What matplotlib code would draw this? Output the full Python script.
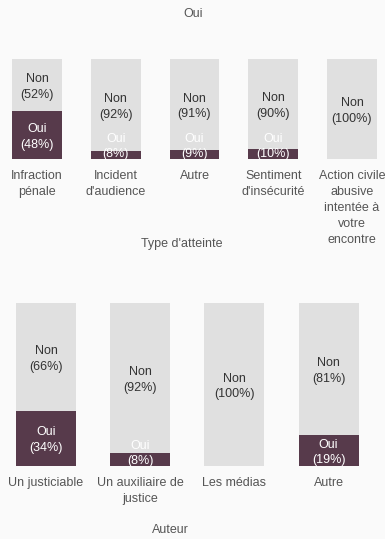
import matplotlib
matplotlib.use('Agg')
import matplotlib.pyplot as plt
from matplotlib.transforms import offset_copy

# figure size in pixels
W, H = 385, 539
DPI = 100

plt.rcParams['font.family'] = ['Liberation Sans', 'DejaVu Sans']

# data
type_labels = ['Infraction\npénale', "Incident\nd'audience", 'Autre',
               "Sentiment\nd'insécurité",
               'Action civile\nabusive\nintentée à\nvotre\nencontre']
type_oui = [48, 8, 9, 10, 0]
type_non = [52, 92, 91, 90, 100]

auteur_labels = ['Un justiciable', 'Un auxiliaire de\njustice', 'Les médias', 'Autre']
auteur_oui = [34, 8, 0, 19]
auteur_non = [66, 92, 100, 81]

BG = '#fafafa'
OUI_COLOR = '#573a4b'
NON_COLOR = '#e0e0e0'
TXT = '#555555'
FS = 9

fig = plt.figure(figsize=(W / DPI, H / DPI), dpi=DPI, facecolor=BG)


def panel(top, bottom, first, step, bar_w, labels, oui, non, label_gap):
    ax = fig.add_axes([0, (H - bottom) / H, 1, (bottom - top) / H])
    ax.set_facecolor('none')
    ax.set_xlim(-first / step, (W - first) / step)
    ax.set_ylim(0, 100)
    ax.set_axis_off()
    x = list(range(len(labels)))
    w = bar_w / step
    ax.bar(x, oui, width=w, color=OUI_COLOR, linewidth=0)
    ax.bar(x, non, width=w, bottom=oui, color=NON_COLOR, linewidth=0)

    ppu = (bottom - top) / 100.0  # pixels per percent
    for i in range(len(labels)):
        if non[i] > 0:
            y = oui[i] + non[i] / 2 - 2 / ppu
            ax.text(i, y, 'Non\n(%d%%)' % non[i], ha='center', va='center',
                    color='#333333', fontsize=FS, linespacing=1.4)
        if oui[i] > 0:
            y = max(oui[i] / 2 - 2 / ppu, 12.5 / ppu)
            ax.text(i, y, 'Oui\n(%d%%)' % oui[i], ha='center', va='center',
                    color='white', fontsize=FS, linespacing=1.4)

    tr = offset_copy(ax.get_xaxis_transform(), fig=fig, y=-label_gap, units='dots')
    for i, lab in enumerate(labels):
        ax.text(i, 0, lab, transform=tr, ha='center', va='top',
                color=TXT, fontsize=FS, linespacing=1.45)
    return ax


panel(59, 159, 37, 78.75, 50, type_labels, type_oui, type_non, 11)
panel(303, 466, 46, 94.2, 60, auteur_labels, auteur_oui, auteur_non, 11)

fig.text(193 / W, 1 - 14 / H, 'Oui', ha='center', va='center', color=TXT, fontsize=FS)
fig.text(182 / W, 1 - 244 / H, "Type d'atteinte", ha='center', va='center', color=TXT, fontsize=FS)
fig.text(170 / W, 1 - 530 / H, 'Auteur', ha='center', va='center', color=TXT, fontsize=FS)

fig.savefig('out.png', dpi=DPI, facecolor=BG)
